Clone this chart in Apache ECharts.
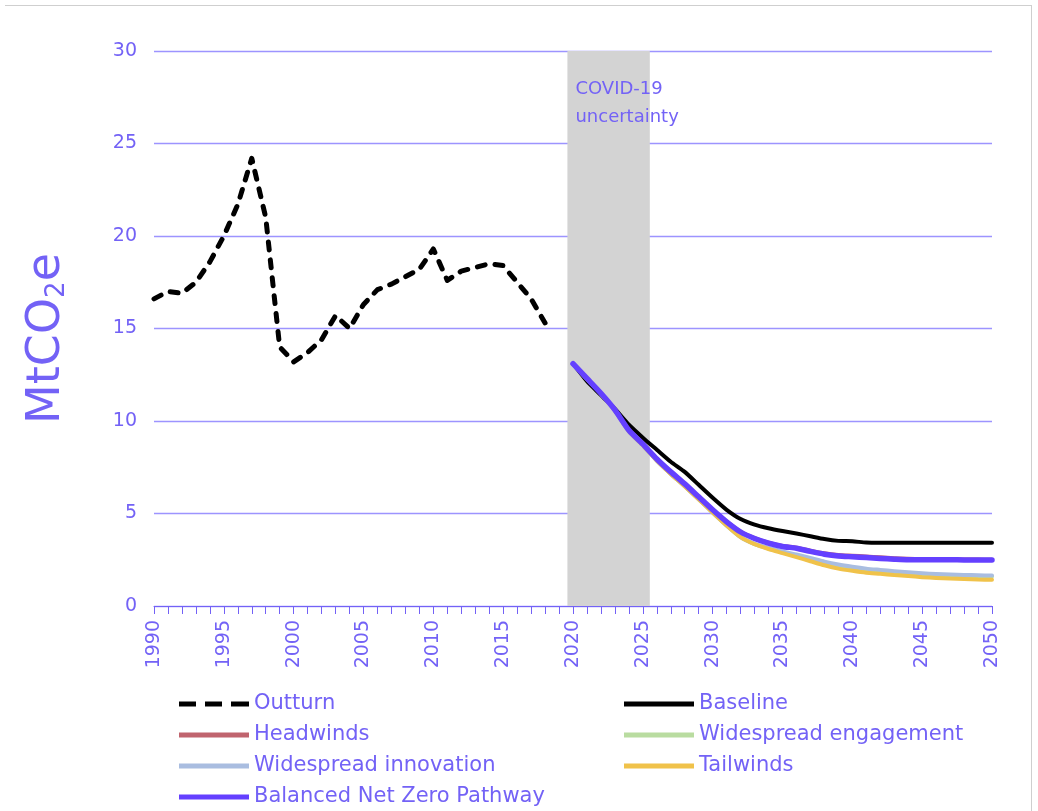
<!DOCTYPE html>
<html>
<head>
<meta charset="utf-8">
<script src="https://cdn.jsdelivr.net/npm/echarts@6/dist/echarts.min.js"></script>
<style>
  html, body { margin: 0; padding: 0; background: #fff; }
  #frame { position: absolute; left: 5px; top: 5px; width: 1027px; height: 830px;
           border-top: 1px solid #cfcfcf; border-right: 1px solid #cfcfcf; box-sizing: border-box; }
  #chart { position: absolute; left: 0; top: 0; width: 1038px; height: 811px; }
</style>
</head>
<body>
<div id="frame"></div>
<div id="chart"></div>
<script>
// Historic emissions (MtCO2e)
const outturnYears = [1990,1991,1992,1993,1994,1995,1996,1997,1998,1999,2000,2001,2002,2003,2004,
  2005,2006,2007,2008,2009,2010,2011,2012,2013,2014,2015,2016,2017,2018];
const outturn = [16.6,17.0,16.9,17.5,18.6,20.0,21.7,24.2,21.0,14.0,13.2,13.7,14.4,15.7,15.0,
  16.3,17.1,17.4,17.8,18.2,19.3,17.6,18.1,18.3,18.5,18.4,17.5,16.6,15.3];

// Scenario years 2020-2050
const scenarioYears = [2020,2021,2022,2023,2024,2025,2026,2027,2028,2029,2030,2031,2032,2033,2034,2035,
  2036,2037,2038,2039,2040,2041,2042,2043,2044,2045,2046,2047,2048,2049,2050];

const baseline = [13.1,12.15,11.4,10.65,9.8,9.1,8.45,7.8,7.25,6.55,5.85,5.2,4.7,4.4,4.2,4.05,
  3.92,3.77,3.62,3.52,3.5,3.43,3.42,3.42,3.42,3.42,3.42,3.42,3.42,3.42,3.42];
const headwinds = [13.1,12.3,11.5,10.6,9.5,8.75,7.95,7.25,6.6,5.9,5.2,4.56,4.02,3.67,3.42,3.25,
  3.15,2.99,2.85,2.76,2.72,2.68,2.63,2.58,2.55,2.54,2.53,2.52,2.51,2.51,2.5];
const engagement = [13.1,12.28,11.48,10.56,9.45,8.68,7.86,7.14,6.47,5.77,5.05,4.35,3.72,3.34,3.1,2.9,
  2.72,2.54,2.34,2.18,2.06,1.96,1.89,1.82,1.77,1.72,1.68,1.65,1.63,1.61,1.6];
const innovation = [13.1,12.28,11.48,10.56,9.45,8.68,7.86,7.14,6.47,5.77,5.05,4.35,3.72,3.36,3.15,2.95,
  2.78,2.6,2.4,2.24,2.12,2.02,1.95,1.88,1.82,1.77,1.73,1.7,1.68,1.66,1.65];
const tailwinds = [13.1,12.28,11.48,10.56,9.45,8.68,7.86,7.14,6.47,5.77,5.05,4.35,3.72,3.34,3.08,2.86,
  2.64,2.42,2.2,2.02,1.9,1.8,1.74,1.67,1.62,1.56,1.52,1.48,1.46,1.43,1.42];
const balanced = [13.1,12.3,11.5,10.6,9.5,8.75,7.95,7.25,6.6,5.9,5.2,4.55,4.0,3.65,3.4,3.22,
  3.12,2.95,2.8,2.7,2.66,2.62,2.57,2.53,2.5,2.5,2.5,2.5,2.49,2.49,2.49];

// COVID-19 uncertainty window
const covidBand = [2019.6, 2025.5];
const yTicks = { min: 0, max: 30, interval: 5 };
const xTicks = { min: 1990, max: 2050, interval: 5 };

const violet = '#7362f6';
const gridViolet = '#9d94ff';
const fontFamily = '"DejaVu Sans", sans-serif';

// Legend swatches: a solid bar, and three dashes for the historic series
const solidIcon = 'path://M0,0h70v5h-70z';
const dashedIcon = 'path://M0,0h17v5h-17z M26,0h17v5h-17z M52,0h18v5h-18z';

function pairs(xs, ys) { return xs.map((x, i) => [x, ys[i]]); }

function scenario(name, values, color, width) {
  return {
    name, type: 'line', data: pairs(scenarioYears, values), symbol: 'none',
    smooth: 0.2, lineStyle: { color, width, cap: 'round', join: 'round' }, itemStyle: { color }
  };
}

const legendCommon = {
  orient: 'vertical', itemWidth: 70, itemHeight: 5, itemGap: 9, padding: 0, height: 118,
  textStyle: { color: violet, fontSize: 21, lineHeight: 22, fontFamily }
};

const chart = echarts.init(document.getElementById('chart'));
chart.setOption({
  animation: false,
  backgroundColor: 'transparent',
  textStyle: { fontFamily },
  grid: { left: 154, right: 46, top: 51, bottom: 205 },
  xAxis: {
    type: 'value', min: xTicks.min, max: xTicks.max, interval: xTicks.interval,
    axisLine: { show: true, lineStyle: { color: violet, width: 1 } },
    axisTick: { show: true, length: 8, lineStyle: { color: violet } },
    minorTick: { show: true, splitNumber: 5, length: 8, lineStyle: { color: violet } },
    splitLine: { show: false },
    axisLabel: { rotate: 90, margin: 14, color: violet, fontSize: 19, fontFamily,
                 formatter: v => String(v) }
  },
  yAxis: {
    type: 'value', min: yTicks.min, max: yTicks.max, interval: yTicks.interval,
    name: 'MtCO{sub|2}e', nameLocation: 'middle', nameGap: 84, nameRotate: 90,
    nameTextStyle: {
      color: violet, fontSize: 46, fontFamily, padding: [0, 20, 0, 0],
      rich: { sub: { fontSize: 26, color: violet, fontFamily, verticalAlign: 'bottom', padding: [16, 0, 0, 0] } }
    },
    axisLine: { show: false }, axisTick: { show: false },
    splitLine: { show: true, lineStyle: { color: gridViolet, width: 1.3 } },
    axisLabel: { color: violet, fontSize: 19, margin: 17, fontFamily }
  },
  legend: [
    Object.assign({}, legendCommon, {
      left: 179, top: 693,
      data: [
        { name: 'Outturn', icon: dashedIcon },
        { name: 'Headwinds', icon: solidIcon },
        { name: 'Widespread innovation', icon: solidIcon },
        { name: 'Balanced Net Zero Pathway', icon: solidIcon }
      ]
    }),
    Object.assign({}, legendCommon, {
      left: 624, top: 693,
      data: [
        { name: 'Baseline', icon: solidIcon },
        { name: 'Widespread engagement', icon: solidIcon },
        { name: 'Tailwinds', icon: solidIcon }
      ]
    })
  ],
  series: [
    {
      name: 'Outturn', type: 'line', data: pairs(outturnYears, outturn), symbol: 'none',
      lineStyle: { color: '#000', width: 5, type: [8, 10], cap: 'round', join: 'round' },
      itemStyle: { color: '#000' },
      markArea: {
        silent: true,
        itemStyle: { color: '#d3d3d3' },
        label: { show: true, position: [8, 24], color: violet,
                 fontSize: 18, lineHeight: 28, fontFamily },
        data: [[{ name: 'COVID-19\nuncertainty', xAxis: covidBand[0], yAxis: yTicks.max },
                { xAxis: covidBand[1], yAxis: yTicks.min }]]
      },
      z: 3
    },
    scenario('Baseline', baseline, '#000000', 4),
    scenario('Headwinds', headwinds, '#c0646e', 4),
    scenario('Widespread engagement', engagement, '#b9dca0', 4),
    scenario('Widespread innovation', innovation, '#a9bde0', 4),
    scenario('Tailwinds', tailwinds, '#f0c24a', 4),
    scenario('Balanced Net Zero Pathway', balanced, '#6440ff', 5.5)
  ]
});
</script>
</body>
</html>
